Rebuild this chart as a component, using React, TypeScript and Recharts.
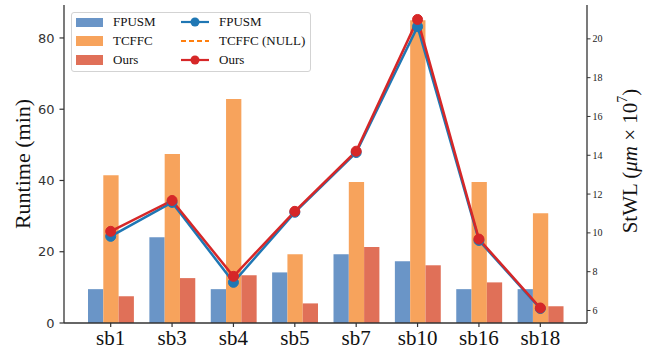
import {
  Bar,
  ComposedChart,
  Legend,
  Line,
  XAxis,
  YAxis,
} from "recharts";

const categories = ["sb1", "sb3", "sb4", "sb5", "sb7", "sb10", "sb16", "sb18"];
const fpusmRuntime = [9.5, 24.1, 9.5, 14.2, 19.3, 17.3, 9.5, 9.5];
const tcffcRuntime = [41.5, 47.4, 62.9, 19.3, 39.6, 85, 39.6, 30.8];
const oursRuntime = [7.5, 12.6, 13.4, 5.5, 21.3, 16.2, 11.4, 4.7];
const fpusmStwl = [9.82, 11.57, 7.45, 11.06, 14.14, 20.63, 9.61, 6.1];
const oursStwl = [10.08, 11.67, 7.76, 11.11, 14.21, 21.0, 9.68, 6.13];
const runtimeTicks = [0, 20, 40, 60, 80];
const stwlTicks = [6, 8, 10, 12, 14, 16, 18, 20];

const data = categories.map((name, i) => ({
  name,
  fpusmRuntime: fpusmRuntime[i],
  tcffcRuntime: tcffcRuntime[i],
  oursRuntime: oursRuntime[i],
  fpusmStwl: fpusmStwl[i],
  oursStwl: oursStwl[i],
}));

const BLUE_BAR = "#6a95c7";
const ORANGE_BAR = "#f7a35c";
const RED_BAR = "#e07058";
const BLUE_LINE = "#1f77b4";
const ORANGE_LINE = "#ff7f0e";
const RED_LINE = "#d62728";
const SPINE = "#333333";
const SERIF = "'Liberation Serif', 'Times New Roman', serif";

const barItems = [
  { label: "FPUSM", color: BLUE_BAR },
  { label: "TCFFC", color: ORANGE_BAR },
  { label: "Ours", color: RED_BAR },
];
const lineItems = [
  { label: "FPUSM", color: BLUE_LINE, dashed: false, marker: true },
  { label: "TCFFC (NULL)", color: ORANGE_LINE, dashed: true, marker: false },
  { label: "Ours", color: RED_LINE, dashed: false, marker: true },
];

function LegendBox() {
  return (
    <div
      style={{
        position: "relative",
        width: 238,
        height: 58,
        border: "1px solid #d3d3d3",
        borderRadius: 3,
        background: "rgba(255,255,255,0.8)",
        fontFamily: SERIF,
        fontSize: 13,
        color: "#111",
      }}
    >
      {barItems.map((it, i) => (
        <div key={"b" + i}>
          <div
            style={{
              position: "absolute",
              left: 4,
              top: 4.5 + i * 18.8,
              width: 27,
              height: 9.5,
              background: it.color,
            }}
          />
          <div
            style={{
              position: "absolute",
              left: 41,
              top: i * 18.8 + 1,
              lineHeight: "16px",
            }}
          >
            {it.label}
          </div>
        </div>
      ))}
      {lineItems.map((it, i) => (
        <div key={"l" + i}>
          <svg
            width={30}
            height={14}
            style={{ position: "absolute", left: 108, top: 2 + i * 18.8 }}
          >
            <line
              x1={1}
              x2={29}
              y1={7}
              y2={7}
              stroke={it.color}
              strokeWidth={2.2}
              strokeDasharray={it.dashed ? "5 3" : undefined}
            />
            {it.marker && <circle cx={15} cy={7} r={4.5} fill={it.color} />}
          </svg>
          <div
            style={{
              position: "absolute",
              left: 147,
              top: i * 18.8 + 1,
              lineHeight: "16px",
              whiteSpace: "nowrap",
            }}
          >
            {it.label}
          </div>
        </div>
      ))}
    </div>
  );
}

function LeftLabel(props: any) {
  const { x, y, height } = props.viewBox;
  const cx = x + 22.5;
  const cy = y + height / 2;
  return (
    <text
      x={cx}
      y={cy}
      transform={`rotate(-90 ${cx} ${cy})`}
      textAnchor="middle"
      dominantBaseline="central"
      fontFamily={SERIF}
      fontSize={22}
      fill="#111"
    >
      Runtime (min)
    </text>
  );
}

function RightLabel(props: any) {
  const { x, y, height } = props.viewBox;
  const cx = x + 43;
  const cy = y + height / 2 - 3;
  return (
    <text
      x={cx}
      y={cy}
      transform={`rotate(-90 ${cx} ${cy})`}
      textAnchor="middle"
      dominantBaseline="central"
      fontFamily={SERIF}
      fontSize={21}
      fill="#111"
    >
      StWL (<tspan fontStyle="italic">μm</tspan> × 10
      <tspan dy={-8} fontSize={14}>
        7
      </tspan>
      <tspan dy={8}>)</tspan>
    </text>
  );
}

export default function App() {
  return (
    <div style={{ position: "absolute", left: 0, top: 0, background: "#fff" }}>
      <ComposedChart
        width={652}
        height={352}
        data={data}
        margin={{ top: 5, right: 0, bottom: 0, left: 0 }}
        barGap={0}
      >
        <XAxis
          dataKey="name"
          height={29}
          padding={{ left: 16, right: 16 }}
          axisLine={{ stroke: SPINE, strokeWidth: 1.3 }}
          tickLine={{ stroke: SPINE, strokeWidth: 1.2 }}
          tickSize={4}
          tickMargin={3}
          tick={{ fontFamily: SERIF, fontSize: 21, fill: "#111" }}
          interval={0}
        />
        <XAxis
          xAxisId="top"
          orientation="top"
          dataKey="name"
          height={0}
          tick={false}
          tickLine={false}
          axisLine={{ stroke: SPINE, strokeWidth: 1.3 }}
        />
        <YAxis
          yAxisId="left"
          width={64}
          domain={[0, 89.25]}
          ticks={runtimeTicks}
          allowDataOverflow
          axisLine={{ stroke: SPINE, strokeWidth: 1.3 }}
          tickLine={{ stroke: SPINE, strokeWidth: 1.2 }}
          tickSize={4.5}
          tickMargin={5}
          tick={{ fontFamily: "'DejaVu Sans', sans-serif", fontSize: 13, fill: "#333" }}
          label={<LeftLabel />}
        />
        <YAxis
          yAxisId="right"
          orientation="right"
          width={65}
          domain={[5.355, 21.745]}
          ticks={stwlTicks}
          allowDataOverflow
          axisLine={{ stroke: SPINE, strokeWidth: 1.3 }}
          tickLine={{ stroke: SPINE, strokeWidth: 1 }}
          tickSize={3.5}
          tickMargin={2}
          tick={{ fontFamily: SERIF, fontSize: 10, fill: "#222" }}
          label={<RightLabel />}
        />
        <Legend
          layout="horizontal"
          verticalAlign="middle"
          align="center"
          wrapperStyle={{ left: 71, top: 12, width: "auto" }}
          content={() => <LegendBox />}
        />
        <Bar yAxisId="left" dataKey="fpusmRuntime" fill={BLUE_BAR} barSize={15.3} isAnimationActive={false} />
        <Bar yAxisId="left" dataKey="tcffcRuntime" fill={ORANGE_BAR} barSize={15.3} isAnimationActive={false} />
        <Bar yAxisId="left" dataKey="oursRuntime" fill={RED_BAR} barSize={15.3} isAnimationActive={false} />
        <Line
          yAxisId="right"
          dataKey="fpusmStwl"
          type="linear"
          stroke={BLUE_LINE}
          strokeWidth={2.5}
          dot={{ r: 5, fill: BLUE_LINE, stroke: BLUE_LINE, strokeWidth: 1 }}
          activeDot={false}
          isAnimationActive={false}
        />
        <Line
          yAxisId="right"
          dataKey="oursStwl"
          type="linear"
          stroke={RED_LINE}
          strokeWidth={2.5}
          dot={{ r: 5, fill: RED_LINE, stroke: RED_LINE, strokeWidth: 1 }}
          activeDot={false}
          isAnimationActive={false}
        />
      </ComposedChart>
    </div>
  );
}
